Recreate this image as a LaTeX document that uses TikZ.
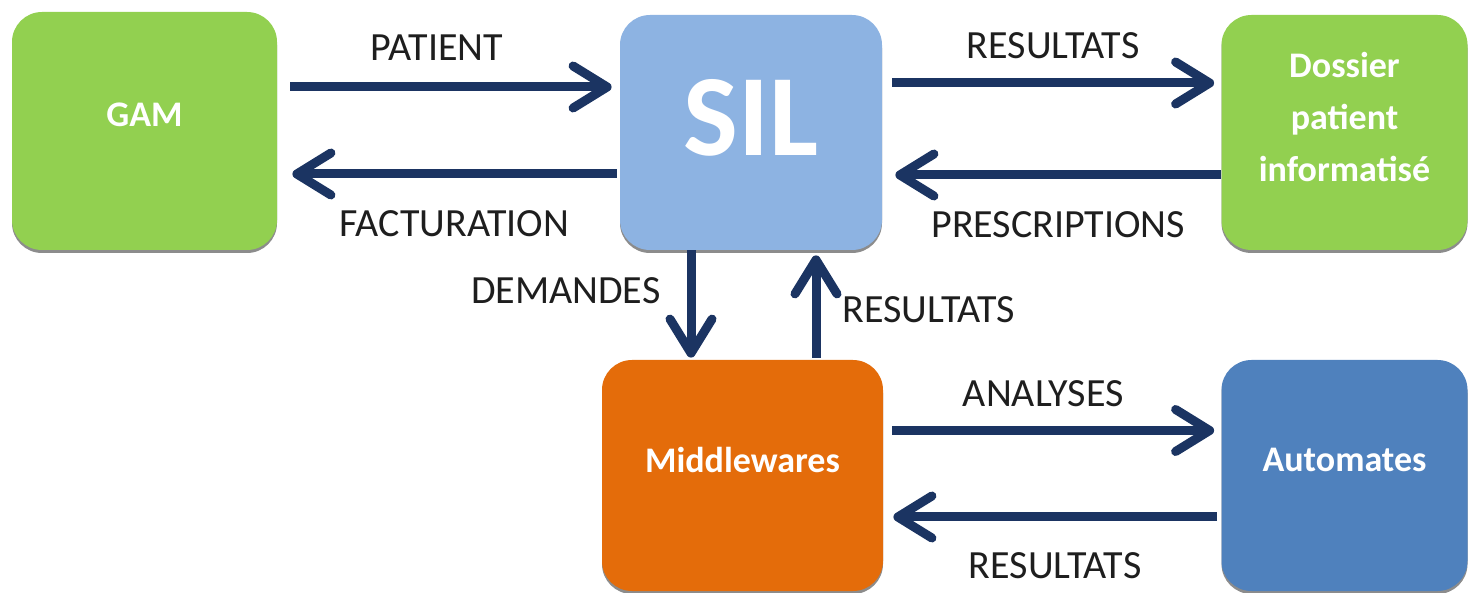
\documentclass[tikz,border=0pt]{standalone}
\usepackage{fontspec}
\setmainfont{Carlito}
\usetikzlibrary{arrows.meta,calc,shadows}

\definecolor{gamgreen}{RGB}{146,208,80}
\definecolor{silblue}{RGB}{141,179,226}
\definecolor{mworange}{RGB}{228,108,10}
\definecolor{autoblue}{RGB}{79,129,189}
\definecolor{flownavy}{RGB}{27,52,98}
\definecolor{lbltext}{RGB}{30,30,30}

\tikzset{
  box/.style={rounded corners=15pt,inner sep=0pt,align=center,text=white,
    text depth=16pt,font=\fontsize{18}{26}\selectfont\bfseries,
    drop shadow={shadow xshift=0pt,shadow yshift=-1.5pt,opacity=0.45,fill=black}},
  flow/.style={draw=flownavy,line width=4.5pt,-{Straight Barb[length=17pt,width=21pt,round]}},
  lbl/.style={text=lbltext,inner sep=0pt,text depth=0pt,font=\fontsize{20}{24}\selectfont}
}

\begin{document}
\begin{tikzpicture}[x=0.5pt,y=0.5pt,yscale=-1]
\useasboundingbox (0,0) rectangle (1469,593);

%Shape: Rounded Rectangle
\node[box,fill=gamgreen,minimum width=132.5pt,minimum height=119pt] (gam) at (144.5,131) {GAM};
%Shape: Rounded Rectangle
\node[box,fill=silblue,minimum width=131pt,minimum height=117.5pt,font=\fontsize{58}{60}\selectfont\bfseries,text depth=15pt] (sil) at (751,132.5) {SIL};
%Shape: Rounded Rectangle
\node[box,fill=gamgreen,minimum width=123pt,minimum height=117.5pt] (dpi) at (1344.5,132.5) {Dossier\\patient\\informatisé};
%Shape: Rounded Rectangle
\node[box,fill=mworange,minimum width=140.5pt,minimum height=115.5pt] (mw) at (742.5,475.5) {Middlewares};
%Shape: Rounded Rectangle
\node[box,fill=autoblue,minimum width=123pt,minimum height=115.5pt] (auto) at (1344.5,475.5) {Automates};

%Straight Lines
\draw[flow] ($(gam.east)+(13,-44)$) -- node[lbl,above=11pt,xshift=-7pt]{PATIENT} ($(sil.west)+(-8,-45.5)$);
\draw[flow] ($(sil.west)+(-3,41.5)$) -- node[lbl,below=16pt]{FACTURATION} ($(gam.east)+(15,43)$);
\draw[flow] ($(sil.east)+(10,-49.5)$) -- node[lbl,above=10pt]{RESULTATS} ($(dpi.west)+(-7,-49.5)$);
\draw[flow] ($(dpi.west)+(0,42.5)$) -- node[lbl,below=16pt]{PRESCRIPTIONS} ($(sil.east)+(13,42.5)$);
\draw[flow] ($(sil.south)+(-60,0)$) -- node[lbl,left=13pt,pos=0.37]{DEMANDES} ($(mw.north)+(-51.5,-2)$);
\draw[flow] ($(mw.north)+(73.5,-2)$) -- node[lbl,right=11pt,pos=0.47]{RESULTATS} ($(sil.south)+(65,5)$);
\draw[flow] ($(mw.east)+(9,-45)$) -- node[lbl,above=9.5pt,xshift=-5pt]{ANALYSES} ($(auto.west)+(-7,-45)$);
\draw[flow] ($(auto.west)+(-4,41.5)$) -- node[lbl,below=15.5pt]{RESULTATS} ($(mw.east)+(10,41.5)$);

\end{tikzpicture}
\end{document}
